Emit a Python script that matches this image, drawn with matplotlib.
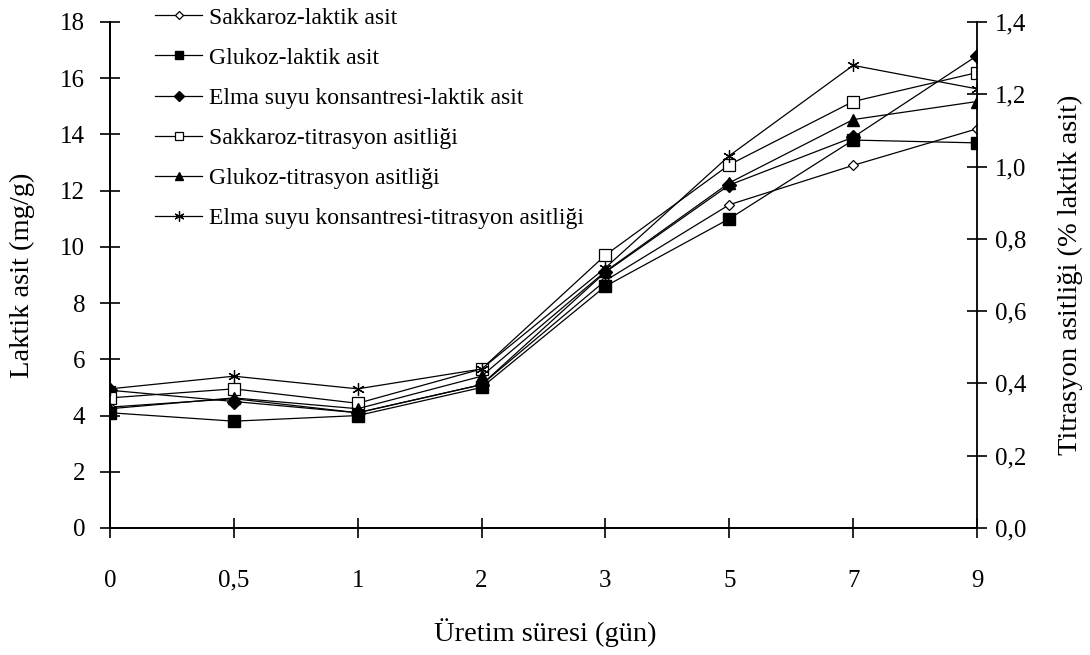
import numpy as np
import matplotlib
matplotlib.use("Agg")
import matplotlib.pyplot as plt
from matplotlib.ticker import FuncFormatter

plt.rcParams['font.family'] = ['Liberation Serif', 'DejaVu Serif']

# Data
gunler = ['0', '0,5', '1', '2', '3', '5', '7', '9']

sakkaroz_laktik = [4.3, 4.6, 4.1, 5.1, 8.8, 11.5, 12.9, 14.2]
glukoz_laktik = [4.1, 3.8, 4.0, 5.0, 8.6, 11.0, 13.8, 13.7]
elma_laktik = [4.9, 4.5, 4.1, 5.1, 9.1, 12.2, 13.9, 16.8]

sakkaroz_titr = [0.36, 0.385, 0.345, 0.44, 0.755, 1.005, 1.18, 1.26]
glukoz_titr = [0.33, 0.36, 0.33, 0.42, 0.71, 0.955, 1.13, 1.18]
elma_titr = [0.385, 0.42, 0.385, 0.44, 0.72, 1.03, 1.28, 1.215]

x = np.arange(len(gunler))

fig = plt.figure(figsize=(10.9, 6.55), dpi=100)
ax = fig.add_axes([110 / 1090, 1 - 528 / 655, 867 / 1090, 506 / 655])
ax2 = ax.twinx()

lw = 0.9
h1, = ax.plot(x, sakkaroz_laktik, color='black', lw=lw, marker='D', ms=5,
              mfc='white', mec='black', mew=0.9, label='Sakkaroz-laktik asit')
h2, = ax.plot(x, glukoz_laktik, color='black', lw=lw, marker='s', ms=8,
              mfc='black', mec='black', label='Glukoz-laktik asit')
h3, = ax.plot(x, elma_laktik, color='black', lw=lw, marker='D', ms=7,
              mfc='black', mec='black', label='Elma suyu konsantresi-laktik asit')
h4, = ax2.plot(x, sakkaroz_titr, color='black', lw=lw, marker='s', ms=8,
               mfc='white', mec='black', mew=0.9, label='Sakkaroz-titrasyon asitliği')
h5, = ax2.plot(x, glukoz_titr, color='black', lw=lw, marker='^', ms=8,
               mfc='black', mec='black', label='Glukoz-titrasyon asitliği')
h6, = ax2.plot(x, elma_titr, color='black', lw=lw, marker=(6, 2, 0), ms=9,
               mfc='black', mec='black', mew=0.9,
               label='Elma suyu konsantresi-titrasyon asitliği')

ax.set_xlim(0, 7)
ax.set_ylim(0, 18)
ax2.set_ylim(0, 1.4)
ax.set_xticks(x)
ax.set_xticklabels(gunler)
ax.set_yticks(np.arange(0, 19, 2))
ax2.set_yticks(np.arange(0, 1.41, 0.2))
ax2.yaxis.set_major_formatter(FuncFormatter(lambda v, p: f"{v:.1f}".replace('.', ',')))

for a in (ax, ax2):
    a.spines['top'].set_visible(False)
    for s in a.spines.values():
        s.set_linewidth(1.3)
ax.spines['right'].set_visible(False)

ax.tick_params(axis='x', direction='inout', length=14, width=1.2, pad=23, labelsize=18)
ax.tick_params(axis='y', direction='inout', length=14, width=1.2, pad=11, labelsize=18)
ax2.tick_params(axis='y', direction='inout', length=14, width=1.2, pad=6, labelsize=18)

fig.text(545 / 1090, 1 - 633 / 655, 'Üretim süresi (gün)', ha='center', va='center', fontsize=20.5)
fig.text(22 / 1090, 1 - 275 / 655, 'Laktik asit (mg/g)', ha='center', va='center',
         rotation=90, fontsize=20.5)
fig.text(1070 / 1090, 1 - 275 / 655, 'Titrasyon asitliği (% laktik asit)', ha='center',
         va='center', rotation=90, fontsize=20.5)

leg = ax.legend(handles=[h1, h2, h3, h4, h5, h6], loc='upper left',
                bbox_to_anchor=(155 / 1090, 1 - 7 / 655), bbox_transform=fig.transFigure,
                frameon=False, fontsize=17, handlelength=2.0, handletextpad=0.3,
                labelspacing=0.79, borderpad=0, borderaxespad=0, markerscale=0.8)

fig.savefig('out.png', dpi=100)
